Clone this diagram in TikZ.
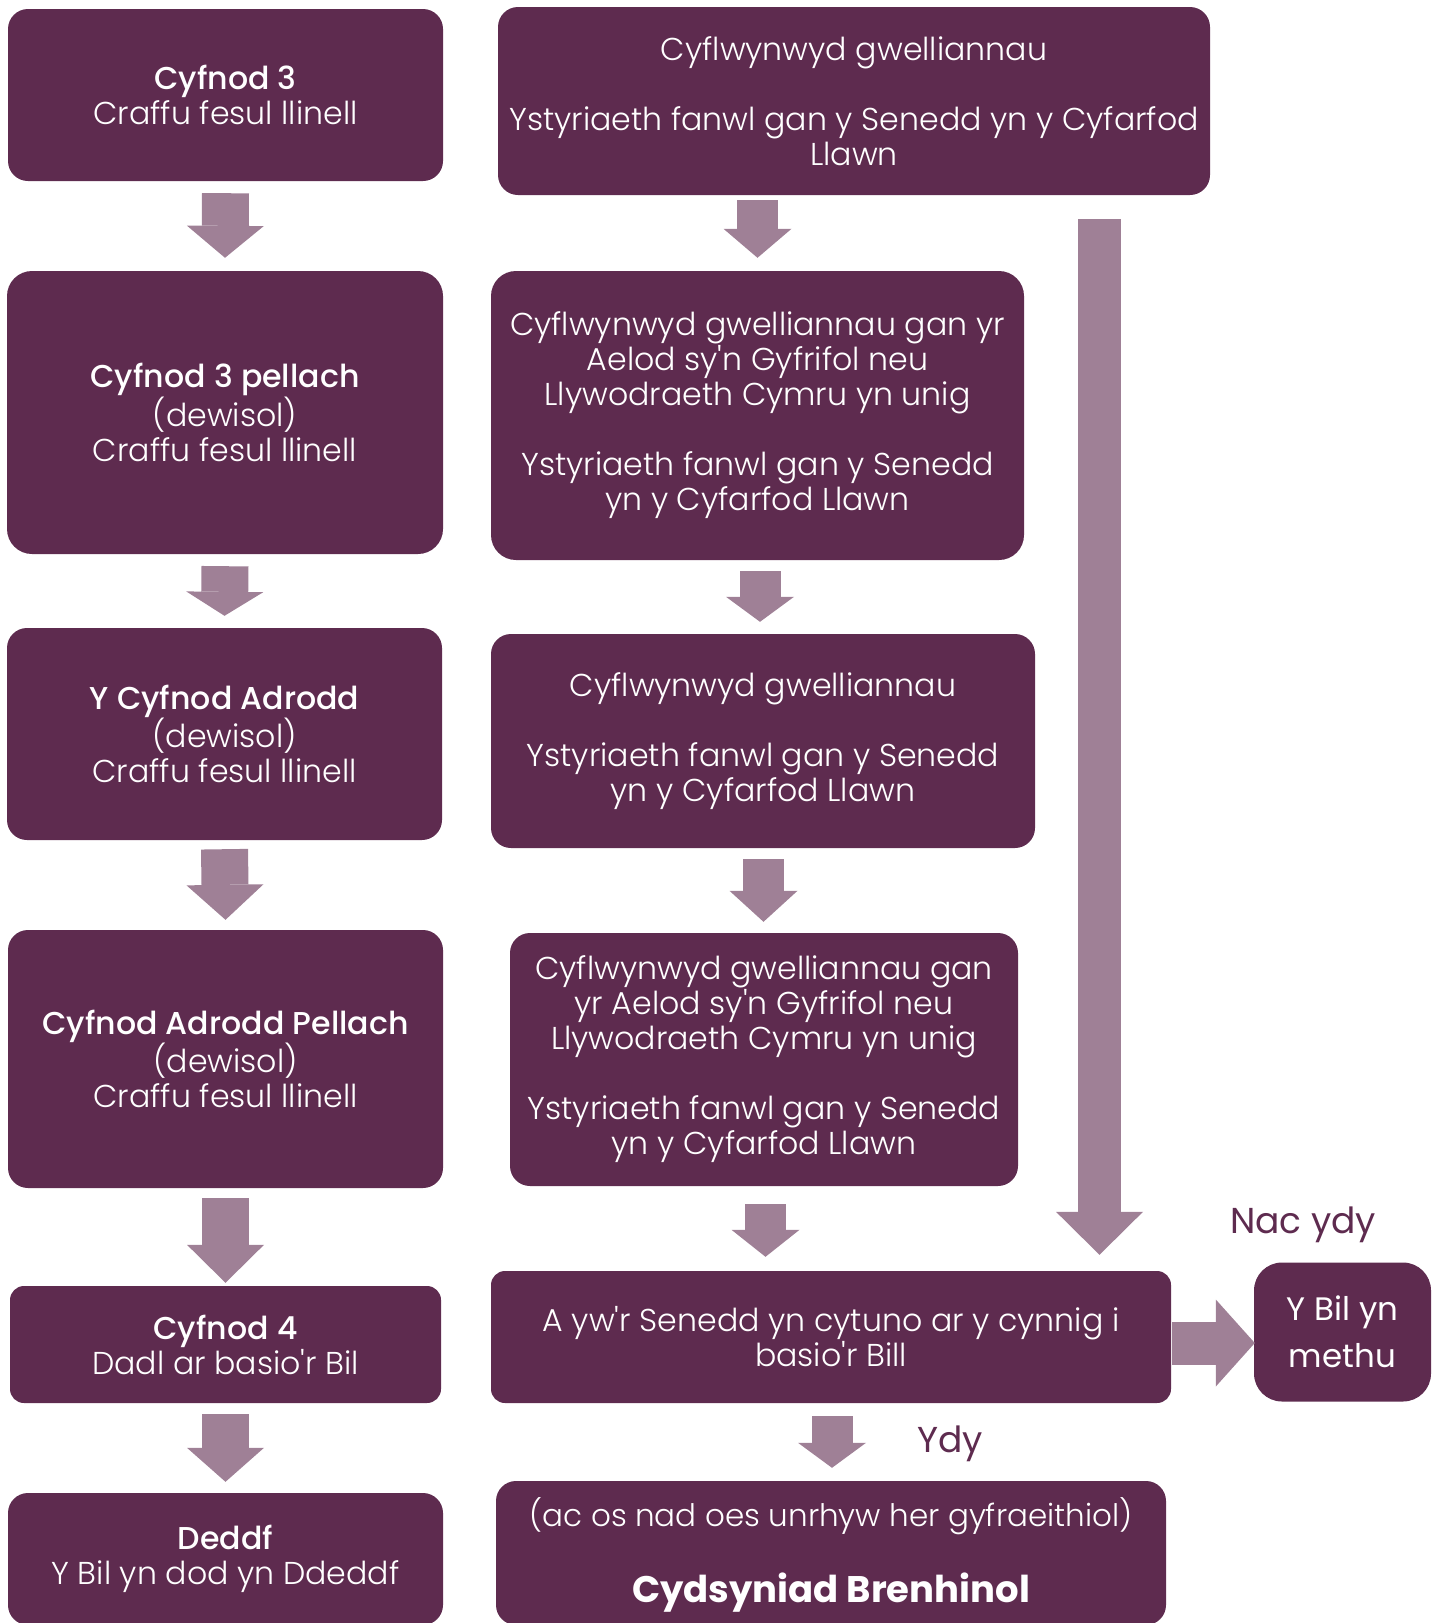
\documentclass[tikz,border=0pt]{standalone}
\usepackage{fontspec}
\setmainfont{Poppins Light}[BoldFont={Poppins Medium}]
\newfontfamily\heavyfont{Poppins Bold}
\newfontfamily\regfont{Poppins}
\usetikzlibrary{arrows.meta,calc}
\definecolor{boxc}{HTML}{5E2B4F}
\definecolor{arrc}{HTML}{9F8096}
\newcommand{\apo}{\textquotesingle}
\tikzset{
  box/.style={fill=boxc, rounded corners=20pt, text=white, align=center, inner sep=0pt,
    font=\fontsize{31.6}{35}\selectfont},
  fatL/.style={draw=arrc, line width=47pt, line cap=butt,
    -{Triangle[width=77pt,length=#1,line width=0pt]}},
  fatR/.style={draw=arrc, line width=41pt, line cap=butt,
    -{Triangle[width=68pt,length=#1,line width=0pt]}},
  fatB/.style={draw=arrc, line width=43pt, line cap=butt,
    -{Triangle[width=87pt,length=#1,line width=0pt]}},
  lbl/.style={text=boxc, inner sep=0pt, font=\regfont\fontsize{36}{40}\selectfont}
}
\begin{document}
\begin{tikzpicture}[x=1pt,y=-1pt]
\useasboundingbox (0,0) rectangle (1439,1623);
\clip (0,0) rectangle (1439,1623);
% left column
\node[box, minimum width=435pt, minimum height=172pt] (L1) at (225.5,95)
  {\textbf{Cyfnod 3}\\Craffu fesul llinell};
\node[box, minimum width=436pt, minimum height=283pt, rounded corners=25pt] (L2) at (225,412.5)
  {\textbf{Cyfnod 3 pellach}\\(dewisol)\\Craffu fesul llinell};
\node[box, minimum width=435pt, minimum height=212pt] (L3) at (224.5,734)
  {\textbf{Y Cyfnod Adrodd}\\(dewisol)\\Craffu fesul llinell};
\node[box, minimum width=435pt, minimum height=258pt] (L4) at (225.5,1059)
  {\textbf{Cyfnod Adrodd Pellach}\\(dewisol)\\Craffu fesul llinell};
\node[box, minimum width=431pt, minimum height=117pt, rounded corners=14pt] (L5) at (225.5,1344.5)
  {\textbf{Cyfnod 4}\\Dadl ar basio\apo r Bil};
\node[box, minimum width=435pt, minimum height=132pt] (L6) at (225.5,1559)
  {\textbf{Deddf}\\Y Bil yn dod yn Ddeddf};
% right column
\node[box, minimum width=712pt, minimum height=188pt] (r1) at (854,101)
  {Cyflwynwyd gwelliannau\\[35pt]Ystyriaeth fanwl gan y Senedd yn y Cyfarfod\\Llawn};
\node[box, minimum width=533pt, minimum height=289pt, rounded corners=25pt] (r2) at (757.5,415.5)
  {Cyflwynwyd gwelliannau gan yr\\Aelod sy\apo n Gyfrifol neu\\Llywodraeth Cymru yn unig\\[35pt]Ystyriaeth fanwl gan y Senedd\\yn y Cyfarfod Llawn};
\node[box, minimum width=544pt, minimum height=214pt] (r3) at (763,741)
  {Cyflwynwyd gwelliannau\\[35pt]Ystyriaeth fanwl gan y Senedd\\yn y Cyfarfod Llawn};
\node[box, minimum width=508pt, minimum height=253pt] (r4) at (764,1059.5)
  {Cyflwynwyd gwelliannau gan\\yr Aelod sy\apo n Gyfrifol neu\\Llywodraeth Cymru yn unig\\[35pt]Ystyriaeth fanwl gan y Senedd\\yn y Cyfarfod Llawn};
\node[box, minimum width=680pt, minimum height=132pt, rounded corners=14pt] (r5) at (831,1337)
  {A yw\apo r Senedd yn cytuno ar y cynnig i\\basio\apo r Bill};
\node[box, minimum width=670pt, minimum height=144pt] (r6) at (831,1553) {};
\node[text=white, inner sep=0pt, font=\fontsize{31}{35}\selectfont] (r6a) at (831,1516)
  {(ac os nad oes unrhyw her gyfraeithiol)};
\node[text=white, inner sep=0pt, font=\heavyfont\fontsize{37}{40}\selectfont] (r6b) at (831,1593)
  {Cydsyniad Brenhinol};
\node[box, minimum width=177pt, minimum height=139pt, rounded corners=28pt,
  font=\regfont\fontsize{32.5}{47}\selectfont] (fail) at (1342.5,1332) {Y Bil yn\\methu};
% labels
\node[lbl] (nac) at (1303,1225) {Nac ydy};
\node[lbl] (ydy) at (950,1444) {Ydy};
% left arrows
\draw[fatL=32pt] ([yshift=-12pt]L1.south) -- ([yshift=13pt]L2.north);
\draw[fatL=24pt] ([yshift=-12pt]L2.south) -- ([yshift=12pt]L3.north);
\draw[fatL=35pt] ([yshift=-9pt]L3.south) -- ([yshift=10pt]L4.north);
\draw[fatL=38pt] ([yshift=-10pt]L4.south) -- ([yshift=3pt]L5.north);
\draw[fatL=34pt] ([yshift=-11pt]L5.south) -- ([yshift=11pt]L6.north);
% right arrows
\draw[fatR=29pt] ($(r1.south -| r2.north)+(0,5)$) -- ($(r2.north)+(0,-13)$);
\draw[fatR=25pt] ($(r2.south)+(2.5,11)$) -- ($(r3.north)+(-3,-12)$);
\draw[fatR=31pt] ($(r3.south)+(0.5,11)$) -- ($(r4.north)+(-0.5,-11)$);
\draw[fatR=27pt] ($(r4.south)+(1.5,18)$) -- ($(r4.south |- r5.north)+(1.5,-14)$);
\draw[fatR=25pt] ($(r5.south)+(1,13)$) -- ($(r6.north)+(1,-13)$);
% long bypass arrow
\coordinate (lt) at (1099.5,219);
\draw[fatB=43pt] (lt) -- ($(lt |- r5.north)+(0,-16)$);
% no arrow
\draw[fatB=39pt] ($(r5.east)+(1,6)$) -- ($(fail.west |- r5.east)+(1,6)$);
\end{tikzpicture}
\end{document}
